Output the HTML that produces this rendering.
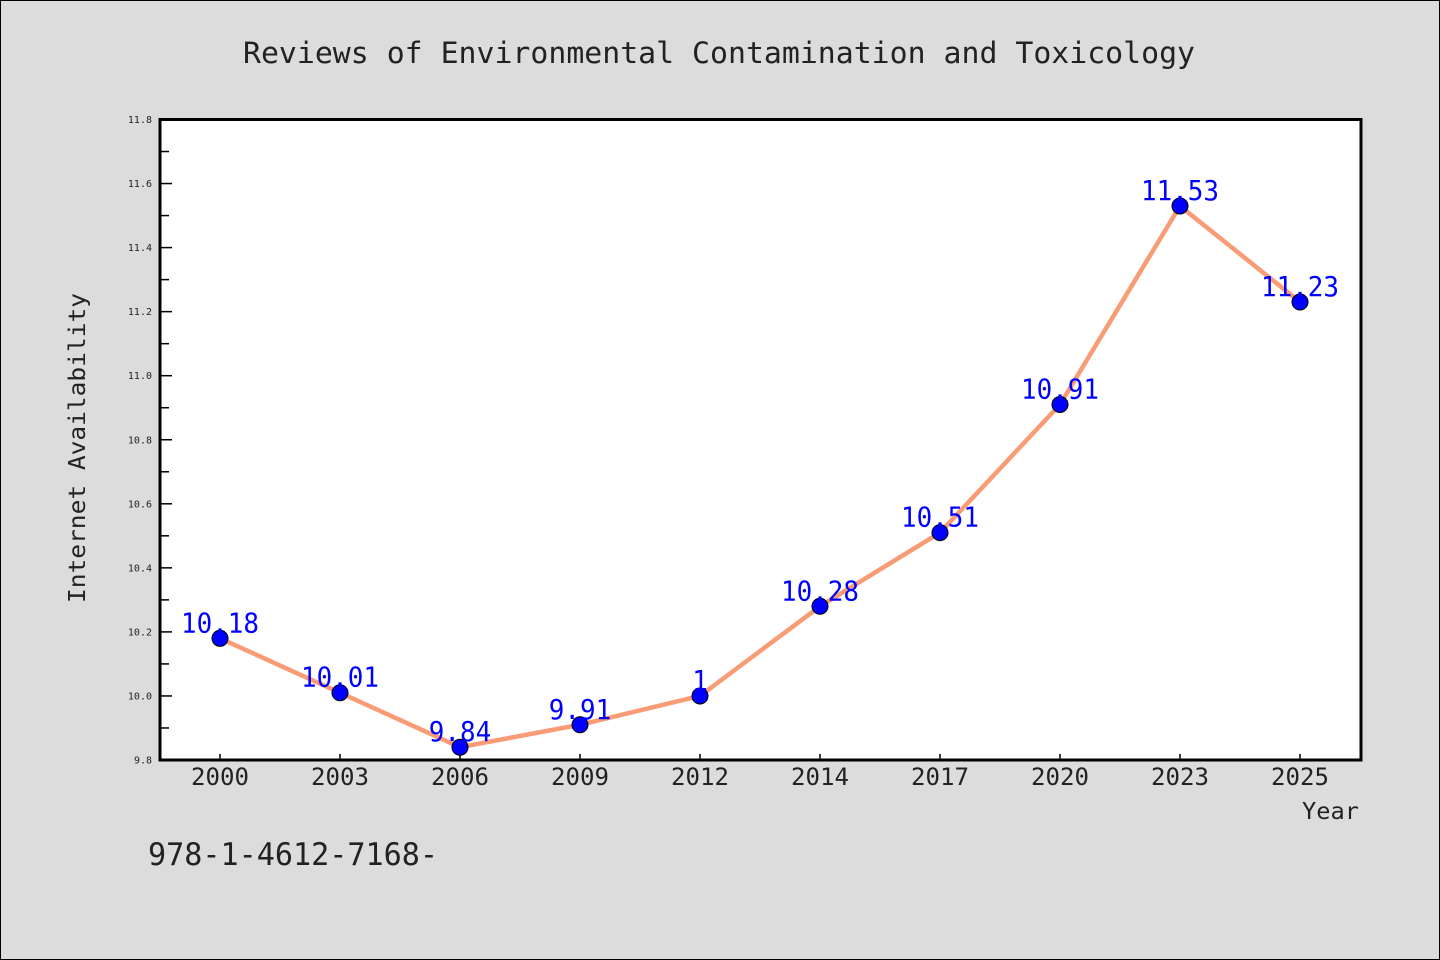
<!DOCTYPE html>
<html><head><meta charset="utf-8"><style>
html,body{margin:0;padding:0;background:#dcdcdc;}
svg{display:block;font-family:"WenQuanYi Zen Hei Mono","DejaVu Sans Mono","Liberation Mono",monospace;}
</style></head><body>
<svg id="chart" width="1440" height="960">
<rect x="0.5" y="0.5" width="1439" height="959" fill="#dcdcdc" stroke="#000"/>
<text x="243" y="63" textLength="952" lengthAdjust="spacingAndGlyphs" font-size="29" fill="#222">Reviews of Environmental Contamination and Toxicology</text>
<rect x="160" y="119.5" width="1201" height="640.5" fill="#fff"/>
<g id="grid"></g>
<g id="series"></g>
<rect x="160" y="119.5" width="1201" height="640.5" fill="none" stroke="#000" stroke-width="3"/>
<text x="85" y="603" transform="rotate(-90 85 603)" textLength="310" lengthAdjust="spacingAndGlyphs" font-size="23" fill="#222">Internet Availability</text>
<text x="1302" y="819" textLength="57" lengthAdjust="spacingAndGlyphs" font-size="23" fill="#222">Year</text>
<text x="148" y="865" textLength="290" lengthAdjust="spacingAndGlyphs" font-size="31" fill="#222">978-1-4612-7168-</text>
</svg>
<script>
const categories=["2000","2003","2006","2009","2012","2014","2017","2020","2023","2025"];
const values=[10.18,10.01,9.84,9.91,10.0,10.28,10.51,10.91,11.53,11.23];
const valueLabels=["10.18","10.01","9.84","9.91","1","10.28","10.51","10.91","11.53","11.23"];
const yTicks=[9.8,10.0,10.2,10.4,10.6,10.8,11.0,11.2,11.4,11.6,11.8];
const NS="http://www.w3.org/2000/svg";
const L=160,R=1361,T=119.5,B=760,yMin=9.8,yMax=11.8;
const x=i=>220+i*(1300-220)/(categories.length-1);
const y=v=>B-(v-yMin)/(yMax-yMin)*(B-T);
function mk(tag,attrs,parent){const e=document.createElementNS(NS,tag);for(const k in attrs)e.setAttribute(k,attrs[k]);parent.appendChild(e);return e;}
const g=document.getElementById('grid'),s=document.getElementById('series');
yTicks.forEach((v,i)=>{
  const t=mk('line',{x1:L,x2:L+12,y1:y(v),y2:y(v),stroke:'#000','stroke-width':1.5},g);
  
  
  const lb=mk('text',{x:152,y:y(v)+3.5,'text-anchor':'end','font-size':10,fill:'#222'},g);
  lb.textContent=v.toFixed(1);
  
  
  if(i<yTicks.length-1){
    const m=mk('line',{x1:L,x2:L+9,y1:y(v+0.1),y2:y(v+0.1),stroke:'#000','stroke-width':1.5},g);
    
    
  }
});
categories.forEach((c,i)=>{
  const t=mk('line',{x1:x(i),x2:x(i),y1:B,y2:B-6,stroke:'#000','stroke-width':1.5},g);
  
  
  const lb=mk('text',{x:x(i)-29,y:785,textLength:58,lengthAdjust:'spacingAndGlyphs','font-size':24,fill:'#222'},g);
  lb.textContent=c;
  
  
});
const line=mk('polyline',{points:values.map((v,i)=>x(i)+','+y(v)).join(' '),fill:'none',stroke:'#f99c76','stroke-width':4.5,'stroke-linejoin':'round'},s);


values.forEach((v,i)=>{
  const p=mk('circle',{cx:x(i),cy:y(v),r:8,fill:'#0000ff',stroke:'#000','stroke-width':1},s);
  
  
  const txt=valueLabels[i];
  const w=txt.length*15.6;
  const lb=mk('text',{x:x(i)-w/2,y:y(v)-6,textLength:w,lengthAdjust:'spacingAndGlyphs','font-size':28,fill:'#0000ff'},s);
  lb.textContent=txt;
  
  
});
</script>
</body></html>
